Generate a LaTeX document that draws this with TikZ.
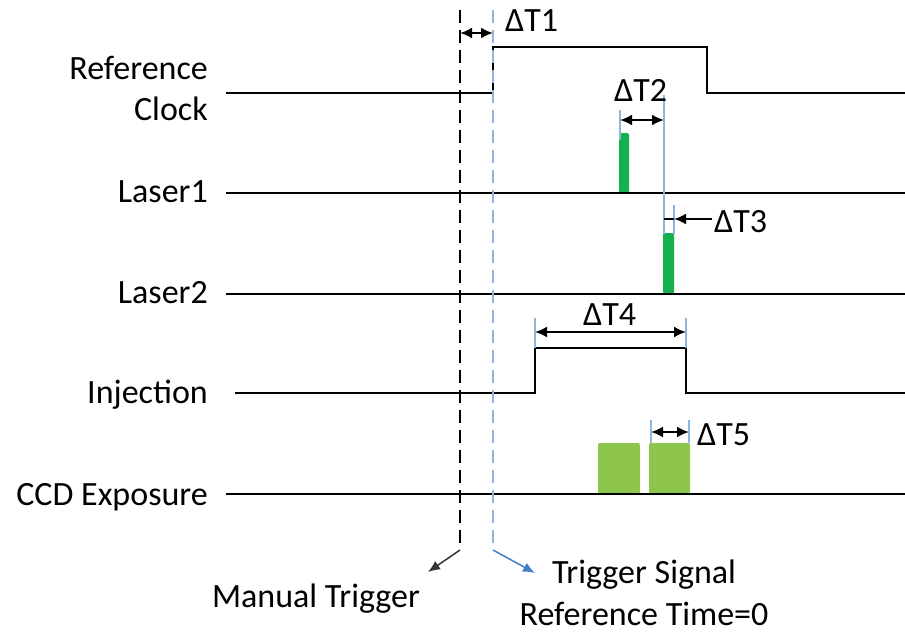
\documentclass[tikz,border=0pt]{standalone}
\usepackage{fontspec}
\setmainfont{Carlito}
\usetikzlibrary{arrows.meta}
\definecolor{laserg}{HTML}{14B04C}
\definecolor{ccdg}{HTML}{8EC64B}
\definecolor{ltblue}{HTML}{8DB6E3}
\definecolor{dkblue}{HTML}{3F7FC8}
\definecolor{dkgray}{HTML}{333333}
\tikzset{
  sig/.style={line width=2pt, black},
  lbl/.style={font=\fontsize{34}{40}\selectfont, inner sep=0pt},
  marker/.style={ltblue, line width=1.3pt},
  dim/.style={line width=2.2pt, {Latex[length=12pt,width=11pt]}-{Latex[length=12pt,width=11pt]}},
  onearrow/.style={line width=2.2pt, -{Latex[length=12pt,width=11pt]}},
}
\begin{document}
\begin{tikzpicture}[x=1pt,y=-1pt]
\useasboundingbox (0,0) rectangle (905,632);
% labels
\node[lbl, anchor=base east] (lref) at (208,79) {Reference};
\node[lbl, anchor=base east] (lclk) at (208,120) {Clock};
\node[lbl, anchor=base east] (ll1) at (208,202) {Laser1};
\node[lbl, anchor=base east] (ll2) at (208,303) {Laser2};
\node[lbl, anchor=base east] (linj) at (208,403) {Injection};
\node[lbl, anchor=base east] (lccd) at (208,505) {CCD Exposure};
% green shapes
\fill[laserg, rounded corners=2pt] (619,133) rectangle (629,193);
\fill[laserg, rounded corners=2pt] (663,233) rectangle (674,294);
\fill[ccdg, rounded corners=2pt] (598,443) rectangle (640,494);
\fill[ccdg, rounded corners=2pt] (649,443) rectangle (690,494);
% signals
\draw[sig] (226,93) -- (493,93) -- (493,47) -- (707,47) -- (707,93) -- (905,93);
\draw[sig] (226,193) -- (905,193);
\draw[sig] (226,294) -- (905,294);
\draw[sig] (235,393) -- (535,393) -- (535,348) -- (686,348) -- (686,393) -- (905,393);
\draw[sig] (226,494) -- (905,494);
% trigger lines
\coordinate (mtop) at (460,10);
\coordinate (mbot) at (460,550);
\coordinate (ttop) at (493,10);
\coordinate (tbot) at (493,550);
\draw[black, line width=1.5pt, dash pattern=on 13pt off 7pt] (mtop) -- (mbot);
\draw[ltblue, line width=1.5pt, dash pattern=on 13pt off 7pt] (ttop) -- (tbot);
\node[lbl, anchor=base] (mt) at (316,607) {Manual Trigger};
\node[lbl, anchor=base] (ts) at (644,583) {Trigger Signal};
\node[lbl, anchor=base] (rt) at (644,625) {Reference Time=0};
\coordinate (mtip) at (428,572);
\coordinate (ttip) at (535,573);
\draw[dkgray, line width=1.5pt, -{Latex[length=12pt,width=10pt]}] (mbot) -- (mtip);
\draw[dkblue, line width=1.5pt, -{Latex[length=12pt,width=10pt]}] (tbot) -- (ttip);
% dT1
\draw[dim] (460,33) -- (493,33);
\node[lbl, anchor=base west] (dt1) at (505,31) {ΔT1};
% dT2
\draw[marker] (620,110) -- (620,140);
\draw[marker] (664,95) -- (664,234);
\draw[dim] (620,120) -- (664,120);
\node[lbl, anchor=base west] (dt2) at (614,101) {ΔT2};
% dT3
\draw[marker] (674,205) -- (674,234);
\draw[line width=1.5pt] (664,219) -- (674,219);
\draw[onearrow] (712,219) -- (674,219);
\node[lbl, anchor=base west] (dt3) at (714,232) {ΔT3};
% dT4
\draw[marker] (535,318) -- (535,348);
\draw[marker] (686,318) -- (686,348);
\draw[dim] (535,332) -- (686,332);
\node[lbl, anchor=base west] (dt4) at (583,325) {ΔT4};
% dT5
\draw[marker] (651,420) -- (651,443);
\draw[marker] (689,420) -- (689,443);
\draw[dim] (651,432) -- (689,432);
\node[lbl, anchor=base west] (dt5) at (697,445) {ΔT5};
\end{tikzpicture}
\end{document}
